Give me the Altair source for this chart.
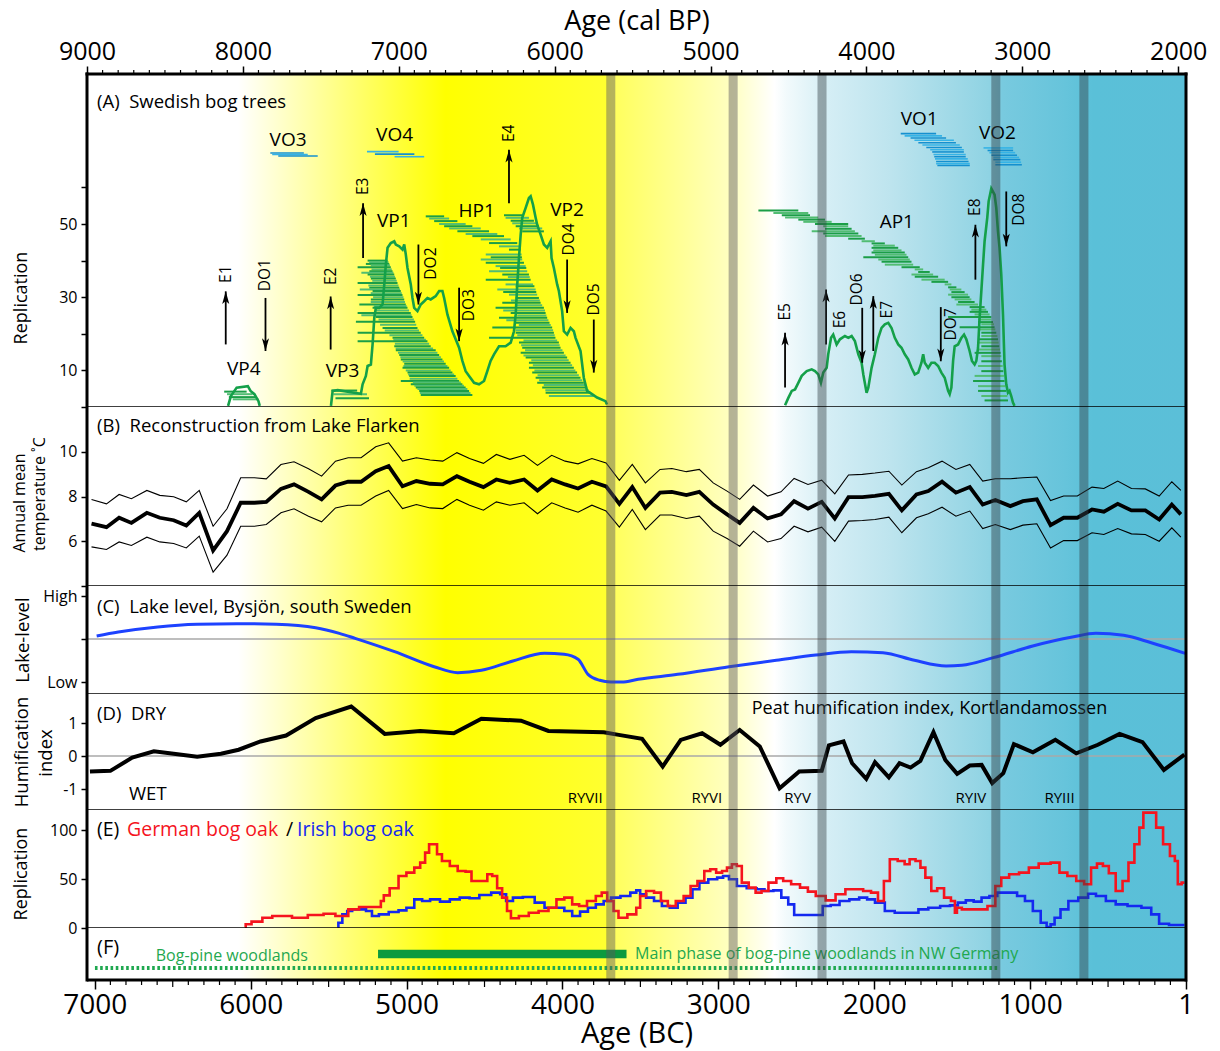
import altair as alt
import pandas as pd

FONT = "Open Sans"
W = 1099
HA, HB, HC, HD, HE, HF = 333, 179, 108, 116, 118, 52
X_LEFT, X_RIGHT = 7050, 0          # years BC at the left / right frame

# ---------------- axis tick labels ----------------
TOP_TICKS_CALBP = [9000, 8000, 7000, 6000, 5000, 4000, 3000, 2000]
BOTTOM_TICKS_BC = [7000, 6000, 5000, 4000, 3000, 2000, 1000, 1]

# ---------------- background & event bands ----------------
BG_YEAR = [7050, 6080, 4750, 3720, 3690, 2900, 2640, 2566, 2300, 1893, 1265, 1176, 773, 594, 0]
BG_COLOR = ["#ffffff", "#ffffff", "#ffff00", "#ffff30", "#ffff5a", "#ffffc4", "#ffffff", "#f2fafc",
            "#d5eef5", "#bde4ee", "#8fd3e3", "#78cadf", "#66c4db", "#5ac0d8", "#5bbfd8"]
BAND_START = [3719, 2934, 2364, 1249, 684]
BAND_END = [3661, 2876, 2306, 1191, 626]
BAND_COLOR = ["#5a565d", "#5a565d", "#3c484c", "#324146", "#324349"]

# ---------------- (A) Swedish bog trees ----------------
VP4_YEAR = [6145, 6127, 6090, 6018, 6001, 5976, 5950, 5942]
VP4_VAL = [0.3, 3.0, 5.3, 5.7, 4.4, 3.5, 1.6, 0.3]
MAIN_YEAR = [5485, 5478, 5474, 5442, 5367, 5293, 5282, 5261, 5250, 5229,
             5218, 5207, 5197, 5175, 5154, 5143, 5133, 5122, 5101, 5079,
             5069, 5047, 5026, 5015, 5005, 4994, 4973, 4962, 4951, 4930,
             4909, 4887, 4866, 4845, 4813, 4791, 4770, 4759, 4738, 4706,
             4685, 4663, 4642, 4621, 4599, 4567, 4535, 4503, 4482, 4461,
             4439, 4407, 4365, 4332, 4311, 4300, 4290, 4279, 4268, 4258,
             4236, 4215, 4204, 4189, 4172, 4162, 4140, 4119, 4098, 4076,
             4070, 4055, 4034, 4023, 4002, 3991, 3970, 3948, 3927, 3916,
             3884, 3863, 3842, 3810, 3778, 3724, 3714]
MAIN_VAL = [0.3, 3.0, 4.4, 4.6, 4.1, 3.6, 6.2, 8.5, 11.2, 11.6,
            17.1, 24.4, 27.1, 27.1, 28.0, 33.5, 38.9, 43.5, 44.8, 45.3,
            44.4, 43.9, 43.0, 44.4, 41.7, 38.0, 33.5, 29.8, 27.1, 26.2,
            28.0, 28.9, 29.8, 29.4, 30.3, 31.7, 31.7, 29.8, 25.3, 20.7,
            18.5, 16.2, 12.6, 9.8, 8.5, 6.6, 6.2, 7.1, 9.8, 12.6,
            14.4, 16.6, 16.6, 17.6, 20.7, 25.3, 33.5, 40.7, 47.1, 51.7,
            54.4, 57.1, 57.6, 55.3, 51.7, 49.8, 47.1, 44.4, 43.5, 45.3,
            40.7, 38.0, 33.5, 31.7, 26.2, 20.7, 19.8, 21.6, 20.7, 18.9,
            15.3, 8.0, 4.4, 3.5, 2.6, 1.6, 0.7]
AP1_YEAR = [2572, 2551, 2529, 2508, 2487, 2465, 2433, 2401, 2380, 2359,
            2342, 2327, 2305, 2295, 2277, 2263, 2241, 2220, 2188, 2166,
            2145, 2124, 2102, 2081, 2070, 2049, 2038, 2017, 1996, 1974,
            1953, 1932, 1910, 1889, 1868, 1846, 1825, 1804, 1782, 1761,
            1740, 1718, 1697, 1686, 1676, 1654, 1633, 1612, 1590, 1569,
            1548, 1526, 1516, 1505, 1494, 1484, 1462, 1441, 1424, 1409,
            1388, 1373, 1356, 1345, 1334, 1324, 1313, 1302, 1292, 1275,
            1266, 1249, 1228, 1217, 1206, 1196, 1185, 1174, 1164, 1153,
            1142, 1132, 1121, 1110, 1100]
AP1_VAL = [0.5, 2.5, 4.4, 4.8, 6.6, 8.5, 9.8, 10.3, 9.8, 8.9,
           6.6, 9.4, 10.7, 14.4, 18.9, 19.8, 17.1, 18.5, 19.4, 18.9,
           19.4, 18.0, 14.4, 12.1, 8.9, 3.9, 5.3, 10.7, 14.4, 18.9,
           21.6, 22.6, 23.0, 21.6, 18.9, 17.1, 16.2, 14.4, 13.0, 10.7,
           8.9, 9.4, 12.1, 14.4, 12.1, 10.7, 12.1, 12.1, 11.2, 9.4,
           8.0, 4.4, 3.5, 5.3, 12.6, 16.6, 17.1, 18.9, 19.8, 18.5,
           15.3, 12.6, 11.6, 12.6, 16.2, 24.4, 31.6, 38.9, 45.3, 51.7,
           56.2, 59.7, 58.0, 54.4, 48.0, 43.5, 36.2, 25.3, 11.6, 6.2,
           3.9, 4.4, 3.0, 1.2, 0.3]

# tree series bars: (replication level, start BC, end BC)
VP4_BARS = [(4.2, 6170, 6026), (3.5, 6152, 5988), (2.7, 6140, 5963), (2.1, 6115, 5950)]
VP3_BARS = [(4.5, 5482, 5317), (3.5, 5469, 5254), (2.4, 5456, 5241)]
VP1_BARS = [(40.0, 5250, 5122), (39.6, 5240, 5116), (39.1, 5261, 5111), (38.7, 5230, 5106), (38.2, 5314, 5101),
            (37.6, 5225, 5095), (37.1, 5239, 5090), (36.7, 5290, 5084), (36.2, 5250, 5079), (35.6, 5235, 5074),
            (35.1, 5229, 5069), (34.5, 5220, 5063), (33.9, 5314, 5058), (33.2, 5245, 5052), (32.6, 5239, 5047),
            (32.1, 5300, 5042), (31.7, 5218, 5037), (31.1, 5230, 5031), (30.6, 5314, 5026), (30.0, 5215, 5020),
            (29.4, 5229, 5015), (28.7, 5230, 5010), (28.0, 5303, 5005), (27.6, 5210, 5000), (27.1, 5218, 4994),
            (26.4, 5200, 4984), (25.7, 5314, 4973), (25.1, 5290, 4968), (24.6, 5197, 4962), (23.9, 5180, 4953),
            (23.3, 5325, 4945), (22.5, 5170, 4938), (21.6, 5154, 4930), (20.9, 5140, 4920), (20.3, 5314, 4909),
            (19.6, 5110, 4898), (18.9, 5090, 4887), (18.4, 5085, 4876), (18.0, 5314, 4866), (17.3, 5075, 4855),
            (16.6, 5079, 4845), (16.0, 5070, 4830), (15.5, 5069, 4813), (14.8, 5055, 4802), (14.2, 5047, 4791),
            (13.6, 5040, 4780), (13.0, 5037, 4770), (12.4, 5025, 4760), (11.8, 5015, 4749), (11.2, 5020, 4738),
            (10.7, 5026, 4727), (10.0, 5005, 4717), (9.4, 4994, 4706), (8.9, 4990, 4695), (8.5, 4983, 4685),
            (7.7, 4980, 4674), (7.1, 5037, 4663), (6.7, 4960, 4652), (6.2, 4973, 4642), (5.8, 4950, 4632),
            (5.3, 4941, 4621), (4.9, 4930, 4610), (4.4, 4919, 4599), (3.8, 4915, 4590), (3.3, 4909, 4578)]
HP1_BARS = [(52.1, 4877, 4759), (51.5, 4855, 4727), (50.8, 4823, 4674), (50.0, 4791, 4621), (49.4, 4759, 4578),
            (48.8, 4727, 4524), (48.0, 4674, 4471), (47.3, 4621, 4418), (46.7, 4578, 4375), (45.8, 4524, 4332),
            (44.8, 4471, 4290), (43.9, 4407, 4279), (43.0, 4343, 4268), (41.7, 4492, 4262), (40.9, 4460, 4260),
            (40.3, 4524, 4258), (39.4, 4492, 4247), (38.5, 4429, 4236), (38.0, 4400, 4232), (37.1, 4471, 4226),
            (36.2, 4386, 4215), (35.5, 4350, 4210), (34.8, 4492, 4204), (33.5, 4365, 4189), (33.0, 4300, 4180),
            (32.1, 4418, 4172), (31.4, 4380, 4168), (30.7, 4343, 4162), (29.8, 4300, 4151), (29.1, 4330, 4145),
            (28.5, 4386, 4140), (27.8, 4300, 4130), (27.1, 4429, 4119), (26.4, 4380, 4112), (25.7, 4332, 4108),
            (25.0, 4290, 4103), (24.4, 4407, 4098), (23.7, 4360, 4090), (23.0, 4311, 4083), (22.4, 4280, 4075),
            (21.7, 4450, 4066), (21.0, 4300, 4060), (20.3, 4300, 4055), (19.6, 4290, 4050), (18.9, 4471, 4045),
            (18.2, 4250, 4034), (17.6, 4279, 4023), (16.9, 4265, 4018), (16.2, 4258, 4012), (15.5, 4240, 4000),
            (14.8, 4268, 3991), (14.1, 4250, 3980), (13.5, 4236, 3970), (12.8, 4200, 3960), (12.1, 4215, 3948),
            (11.4, 4190, 3938), (10.7, 4215, 3927), (10.0, 4180, 3917), (9.4, 4194, 3906), (8.7, 4160, 3895),
            (8.0, 4172, 3884), (7.3, 4150, 3873), (6.6, 4162, 3863), (6.0, 4120, 3852), (5.3, 4130, 3842),
            (4.6, 4110, 3831), (3.9, 4108, 3820), (3.0, 4087, 3799)]
VP2_BARS = [(52.4, 4375, 4258), (51.7, 4365, 4215), (50.9, 4332, 4183), (50.2, 4322, 4162),
            (49.4, 4300, 4151), (48.8, 4279, 4130), (48.0, 4258, 4119)]
AP1_BARS = [(53.7, 2743, 2487), (53.0, 2647, 2423), (52.4, 2593, 2412), (51.8, 2572, 2359), (51.2, 2487, 2316),
            (50.6, 2455, 2273), (50.0, 2380, 2167), (49.4, 2327, 2167), (48.7, 2316, 2145), (48.0, 2401, 2124),
            (47.4, 2327, 2102), (46.7, 2316, 2081), (46.0, 2167, 2060), (45.3, 2081, 1996), (44.7, 2017, 1932),
            (44.1, 2006, 1868), (43.5, 2017, 1846), (42.8, 2006, 1825), (42.2, 2017, 1804), (41.6, 1996, 1793),
            (40.9, 2070, 1782), (40.3, 1974, 1772), (39.7, 1953, 1761), (38.9, 1932, 1750), (38.2, 1825, 1708),
            (37.6, 1740, 1686), (36.9, 1718, 1644), (36.2, 1761, 1622), (35.6, 1740, 1590), (34.8, 1697, 1548),
            (34.2, 1633, 1526), (33.5, 1548, 1505), (32.7, 1526, 1473), (32.1, 1516, 1441), (31.4, 1505, 1420),
            (30.7, 1526, 1398), (30.0, 1505, 1388), (29.4, 1484, 1377), (28.7, 1462, 1356), (28.0, 1473, 1334),
            (27.3, 1388, 1292), (26.6, 1377, 1281), (26.0, 1388, 1270), (25.3, 1356, 1260), (24.6, 1526, 1249),
            (23.9, 1334, 1249), (23.2, 1334, 1238), (22.6, 1313, 1232), (21.8, 1452, 1228), (21.2, 1334, 1223),
            (20.3, 1313, 1217), (19.4, 1313, 1210), (18.5, 1334, 1206), (17.6, 1334, 1202), (16.6, 1313, 1198),
            (15.7, 1334, 1193), (14.8, 1356, 1189), (13.9, 1313, 1185), (12.5, 1313, 1181), (11.2, 1334, 1176),
            (9.8, 1313, 1172), (8.5, 1356, 1168), (7.1, 1366, 1164), (5.7, 1334, 1159), (4.4, 1334, 1153),
            (3.0, 1313, 1146), (1.8, 1292, 1142)]
VO_BARS = [(69.4, 5874, 5659), (69.0, 5862, 5634), (68.6, 5823, 5570),
           (69.8, 5254, 5051), (69.1, 5203, 4950), (68.4, 5077, 4887),
           (74.7, 1830, 1603), (74.1, 1805, 1565), (73.5, 1767, 1539), (72.9, 1742, 1489), (72.2, 1717, 1476),
           (71.6, 1691, 1451), (70.9, 1666, 1438), (70.3, 1641, 1425), (69.7, 1628, 1425), (69.0, 1620, 1413),
           (68.4, 1615, 1413), (67.8, 1610, 1400), (67.1, 1603, 1395), (66.5, 1603, 1387), (66.0, 1595, 1387),
           (70.8, 1299, 1109), (70.1, 1273, 1109), (69.5, 1261, 1096), (68.8, 1248, 1084), (68.2, 1236, 1071),
           (67.6, 1236, 1063), (66.9, 1223, 1058), (66.2, 1223, 1053)]

GROUP_NAME = ["VP4", "VP3", "VP1", "VO3", "VO4", "HP1", "VP2", "AP1", "VO1", "VO2"]
GROUP_YEAR = [6044, 5411, 5082, 5760, 5077, 4550, 3971, 1855, 1711, 1210]
GROUP_VAL = [10.3, 9.8, 50.7, 73.0, 74.4, 53.5, 53.9, 50.5, 78.8, 75.0]

ARROW_NAME = ["E1", "DO1", "E2", "E3", "E4", "DO2", "DO3", "DO4", "DO5", "E5", "E6", "DO6", "E7", "DO7", "E8", "DO8"]
ARROW_YEAR = [6160, 5905, 5487, 5279, 4343, 4924, 4663, 3970, 3799, 2572, 2309, 2077, 2006, 1573, 1351, 1153]
ARROW_FROM = [17.1, 29.8, 15.7, 40.7, 55.7, 44.4, 32.6, 40.3, 23.9, 5.3, 17.1, 27.1, 15.3, 27.3, 34.8, 58.9]
ARROW_TO = [31.6, 15.3, 30.2, 55.7, 70.3, 28.0, 18.0, 25.7, 9.4, 20.3, 32.1, 12.1, 30.3, 12.5, 49.8, 43.9]
ARROW_LABEL_YEAR = [6160, 5905, 5487, 5279, 4343, 4844, 4599, 3959, 3799, 2572, 2220, 2113, 1915, 1509, 1351, 1074]
ARROW_LABEL_VAL = [36.3, 36.0, 35.7, 60.3, 74.8, 39.2, 27.8, 45.8, 29.4, 26.0, 23.9, 32.1, 26.6, 22.6, 54.6, 53.9]

# ---------------- (B) Lake Flarken temperature ----------------
B_YEAR = [7021, 6925, 6844, 6765, 6666, 6583, 6494, 6413, 6330, 6241,
          6152, 6064, 5976, 5900, 5806, 5722, 5629, 5545, 5456, 5375,
          5292, 5198, 5115, 5026, 4937, 4849, 4768, 4677, 4596, 4507,
          4424, 4337, 4246, 4160, 4069, 3983, 3900, 3811, 3720,
          3635, 3552, 3468, 3374, 3298, 3205, 3122, 3033, 2944, 2863,
          2775, 2684, 2598, 2514, 2425, 2337, 2253, 2165, 2076, 1995,
          1906, 1823, 1729, 1653, 1565, 1476, 1387, 1304, 1223, 1127,
          1046, 957, 869, 785, 697, 603, 527, 438, 350, 261, 172, 91, 33]
B_MID = [6.79, 6.63, 7.05, 6.82, 7.27, 7.05, 6.94, 6.70, 7.27, 5.59,
         6.45, 7.72, 7.72, 7.76, 8.34, 8.54, 8.21, 7.87, 8.49, 8.66,
         8.66, 9.13, 9.36, 8.46, 8.69, 8.57, 8.54, 8.91, 8.66, 8.42,
         8.76, 8.61, 8.76, 8.27, 8.76, 8.54, 8.36, 8.66, 8.45,
         7.67, 8.42, 7.49, 8.17, 8.21, 8.06, 8.21, 7.64, 7.20, 6.82,
         7.49, 7.02, 7.20, 7.79, 7.46, 7.76, 7.02, 7.97, 7.97, 8.03,
         8.12, 7.38, 8.09, 8.24, 8.66, 8.17, 8.42, 7.64, 7.84, 7.57,
         7.79, 7.87, 6.72, 7.05, 7.05, 7.42, 7.32, 7.67, 7.38, 7.38, 6.97, 7.64, 7.20]
B_UP = [7.87, 7.67, 8.09, 7.90, 8.27, 8.05, 7.99, 7.76, 8.27, 6.67,
        7.45, 8.84, 8.84, 8.79, 9.43, 9.55, 9.24, 8.91, 9.58, 9.73,
        9.73, 10.22, 10.40, 9.58, 9.73, 9.63, 9.58, 9.96, 9.70, 9.48,
        9.88, 9.66, 9.84, 9.39, 9.84, 9.58, 9.46, 9.70, 9.50,
        8.72, 9.43, 8.61, 9.21, 9.25, 9.11, 9.21, 8.61, 8.24, 7.87,
        8.51, 8.02, 8.21, 8.81, 8.54, 8.73, 8.12, 8.96, 8.99, 9.05,
        9.13, 8.51, 9.11, 9.28, 9.58, 9.21, 9.43, 8.69, 8.79, 8.79,
        8.84, 8.87, 7.82, 8.02, 8.02, 8.42, 8.36, 8.69, 8.36, 8.34, 8.02, 8.66, 8.27]
B_LOW = [5.75, 5.63, 5.97, 5.81, 6.18, 5.97, 5.90, 5.70, 6.23, 4.62,
         5.38, 6.67, 6.67, 6.75, 7.27, 7.45, 7.12, 6.87, 7.49, 7.61,
         7.61, 8.02, 8.27, 7.46, 7.64, 7.49, 7.46, 7.87, 7.61, 7.39,
         7.76, 7.61, 7.72, 7.23, 7.72, 7.49, 7.30, 7.61, 7.35,
         6.63, 7.42, 6.52, 7.17, 7.17, 7.02, 7.12, 6.45, 6.12, 5.78,
         6.45, 5.97, 6.12, 6.67, 6.42, 6.63, 6.00, 6.90, 6.93, 6.97,
         7.08, 6.38, 7.05, 7.23, 7.52, 7.12, 7.35, 6.57, 6.75, 6.52,
         6.72, 6.78, 5.70, 6.03, 6.03, 6.38, 6.30, 6.57, 6.33, 6.30, 6.00, 6.60, 6.18]

# ---------------- (C) Lake level Bysjon (0 = Low, 1 = High) ----------------
C_YEAR = [6988, 6849, 6596, 6343, 6090, 5836, 5583, 5431, 5330, 5077,
          4823, 4672, 4520, 4318, 4115, 3989, 3900, 3836, 3761, 3690,
          3620, 3514, 3261, 2931, 2628, 2375, 2147, 1944, 1742, 1539,
          1438, 1236, 983, 729, 578, 400, 223, 5]
C_VAL = [0.535, 0.581, 0.640, 0.671, 0.678, 0.671, 0.632, 0.566, 0.508, 0.353,
         0.178, 0.109, 0.136, 0.244, 0.333, 0.322, 0.264, 0.089, 0.02, 0.0,
         0.0, 0.031, 0.089, 0.178, 0.252, 0.314, 0.353, 0.341, 0.252, 0.186,
         0.194, 0.283, 0.419, 0.523, 0.566, 0.543, 0.457, 0.333]

# ---------------- (D) Peat humification ----------------
D_YEAR = [7031, 6900, 6760, 6621, 6494, 6343, 6191, 6077, 5937, 5773,
          5583, 5355, 5140, 4912, 4697, 4520, 4266, 4090, 3735, 3639,
          3489, 3357, 3241, 3104, 2987, 2863, 2734, 2607, 2481, 2337,
          2291, 2197, 2142, 2051, 1995, 1906, 1838, 1767, 1704, 1620,
          1544, 1468, 1387, 1311, 1243, 1172, 1104, 982, 838, 704,
          565, 426, 279, 142, 10]
D_VAL = [-0.47, -0.45, -0.05, 0.14, 0.07, -0.02, 0.07, 0.19, 0.44, 0.62,
         1.15, 1.50, 0.67, 0.76, 0.69, 1.13, 1.07, 0.76, 0.72, 0.64,
         0.52, -0.32, 0.49, 0.69, 0.34, 0.79, 0.29, -0.98, -0.47, -0.45,
         0.32, 0.44, -0.22, -0.69, -0.19, -0.65, -0.22, -0.35, -0.15, 0.72,
         -0.12, -0.54, -0.29, -0.27, -0.82, -0.52, 0.36, 0.11, 0.49, 0.08,
         0.34, 0.67, 0.42, -0.42, 0.04]
RY_NAME = ["RYVII", "RYVI", "RYV", "RYIV", "RYIII"]
RY_YEAR = [3854, 3074, 2492, 1380, 811]

# ---------------- (E) bog oak replication ----------------
RED_YEAR = [6038, 6026, 5963, 5887, 5836, 5786, 5684, 5583, 5482, 5431,
            5393, 5355, 5254, 5178, 5152, 5140, 5077, 5026, 4976, 4925,
            4900, 4862, 4849, 4811, 4798, 4748, 4697, 4647, 4596, 4571,
            4495, 4469, 4432, 4406, 4368, 4343, 4318, 4241, 4191, 4115,
            4064, 4013, 3963, 3912, 3874, 3811, 3761, 3735, 3691, 3653,
            3628, 3539, 3514, 3489, 3438, 3387, 3350, 3298, 3248, 3197,
            3159, 3109, 3071, 3033, 2995, 2957, 2932, 2894, 2869, 2830,
            2780, 2742, 2704, 2653, 2603, 2565, 2501, 2451, 2400, 2350,
            2273, 2223, 2147, 2096, 2046, 1995, 1957, 1919, 1881, 1818,
            1792, 1754, 1716, 1691, 1653, 1615, 1577, 1527, 1489, 1476,
            1463, 1413, 1311, 1236, 1210, 1160, 1109, 1033, 983, 907,
            830, 793, 729, 679, 628, 590, 552, 514, 476, 426,
            388, 350, 312, 286, 261, 211, 172, 122, 84, 59, 46, 10]
RED_VAL = [1.0, 3.8, 6.5, 10.5, 12.2, 12.2, 10.5, 13.3, 14.6, 12.2,
           12.2, 19.0, 21.4, 21.4, 27.6, 33.3, 40.5, 53.1, 56.5, 61.6,
           66.7, 76.9, 85.4, 85.4, 75.2, 68.4, 63.3, 58.2, 57.5, 48.0,
           48.0, 54.8, 53.1, 40.5, 31.0, 17.3, 9.9, 12.2, 15.6, 17.3,
           20.7, 29.2, 31.0, 24.1, 22.5, 27.6, 32.7, 36.1, 27.6, 17.3,
           10.5, 13.9, 20.7, 32.7, 37.8, 36.1, 27.6, 22.5, 27.6, 32.7,
           42.9, 48.0, 58.2, 59.9, 56.5, 58.2, 61.6, 65.0, 63.3, 46.3,
           41.2, 36.1, 37.8, 46.3, 50.7, 48.0, 44.6, 41.2, 37.1, 32.7,
           28.2, 34.4, 39.5, 39.5, 37.8, 36.1, 27.6, 48.0, 70.1, 68.4,
           65.0, 70.1, 68.4, 61.6, 51.4, 37.8, 40.5, 31.0, 27.6, 15.6,
           20.7, 19.0, 19.0, 22.5, 42.9, 51.4, 54.8, 56.5, 61.6, 65.7,
           66.7, 56.5, 53.1, 48.0, 44.6, 61.6, 65.7, 63.3, 55.8, 37.8,
           48.0, 66.7, 85.4, 102.4, 117.7, 117.7, 102.4, 85.4, 73.5, 68.4, 44.6, 46.3]
BLUE_YEAR = [5444, 5431, 5393, 5368, 5330, 5279, 5241, 5203, 5152, 5077,
             5026, 4976, 4925, 4875, 4823, 4748, 4697, 4621, 4571, 4495,
             4419, 4380, 4343, 4292, 4216, 4140, 4090, 4013, 3963, 3912,
             3862, 3811, 3761, 3710, 3666, 3590, 3539, 3514, 3489, 3438,
             3387, 3337, 3286, 3236, 3185, 3147, 3096, 3033, 2982, 2957,
             2906, 2856, 2780, 2729, 2679, 2615, 2577, 2526, 2501, 2350,
             2311, 2248, 2197, 2122, 2071, 2020, 1970, 1894, 1843, 1742,
             1691, 1615, 1539, 1489, 1438, 1387, 1337, 1286, 1236, 1185,
             1109, 1058, 1008, 957, 907, 881, 856, 830, 780, 729,
             653, 603, 552, 476, 426, 324, 248, 198, 147, 71, 10]
BLUE_VAL = [0.9, 5.4, 13.9, 17.3, 19.0, 19.0, 17.3, 12.2, 13.9, 16.3,
            18.0, 20.7, 29.2, 27.6, 29.2, 26.9, 29.2, 31.0, 30.3, 33.7,
            36.1, 34.4, 27.6, 31.0, 31.6, 25.9, 20.7, 20.7, 17.3, 12.2,
            16.7, 20.7, 24.1, 27.6, 31.0, 32.7, 36.1, 38.4, 34.4, 31.0,
            27.6, 22.5, 20.7, 25.9, 31.0, 39.5, 46.3, 49.7, 51.4, 53.1,
            49.7, 42.9, 40.5, 39.5, 37.8, 38.4, 31.0, 24.1, 13.3, 13.3,
            22.5, 23.5, 27.6, 29.2, 31.0, 29.2, 25.9, 17.3, 15.6, 15.6,
            19.0, 20.7, 22.5, 23.1, 25.9, 28.2, 26.9, 31.0, 32.7, 36.1,
            36.1, 32.7, 27.6, 17.3, 5.4, 1.0, 3.7, 10.5, 19.0, 27.6,
            31.0, 35.0, 32.7, 27.6, 24.1, 22.5, 20.7, 13.9, 4.4, 3.1, 3.1]

# ---------------- (F) bog-pine woodlands ----------------
F_MAIN_START, F_MAIN_END, F_MAIN_LEVEL = 5183, 3589, 26
F_ALL_START, F_ALL_END, F_ALL_LEVEL = 6999, 1207, 12
F_TEXT = ["Bog-pine woodlands", "Main phase of bog-pine woodlands in NW Germany"]
F_TEXT_YEAR = [6609, 3534]
F_TEXT_LEVEL = [24, 26]

# ======================= helpers =======================
XS = alt.Scale(domain=[X_RIGHT, X_LEFT], reverse=True, nice=False, zero=False)
GREEN = "#14a049"
GREEN_TXT = "#1fa84f"
RED = "#f5141e"
BLUE = "#1428f0"
LAKE = "#1d42ff"
BAR_TONES = ["#1b9e47", "#52bd73"]
VO_TONES = ["#1590cf", "#35b3e6"]
ONE = pd.DataFrame({"a": [0]})


def xe(field, ax):
    return alt.X(field, type="quantitative", scale=XS, axis=ax)


def ye(field, dom, ax):
    return alt.Y(field, type="quantitative", scale=alt.Scale(domain=dom, nice=False, zero=False), axis=ax)


def yaxis(values, expr):
    return alt.Axis(values=values, labelExpr=expr, title=None, domain=False, grid=False,
                    tickSize=6, tickWidth=1.5, tickColor="black", labelColor="black",
                    labelFont=FONT, labelFontSize=16, labelPadding=4)


GRAD = alt.LinearGradient(
    gradient="linear", x1=0, x2=1, y1=0, y2=0,
    stops=[alt.GradientStop(offset=(X_LEFT - y) / (X_LEFT - X_RIGHT), color=c) for y, c in zip(BG_YEAR, BG_COLOR)])


def background(h, ax):
    d = pd.DataFrame({"x": [X_LEFT], "x2": [X_RIGHT]})
    return alt.Chart(d).mark_rect(fill=GRAD).encode(x=xe("x", ax), x2="x2", y=alt.value(0), y2=alt.value(h))


def bands(h, ax):
    d = pd.DataFrame({"x": BAND_START, "x2": BAND_END, "c": BAND_COLOR})
    return alt.Chart(d).mark_rect(opacity=0.45).encode(
        x=xe("x", ax), x2="x2", y=alt.value(0), y2=alt.value(h), color=alt.Color("c:N", scale=None))


def frame(h, top=False, bottom_w=1.5):
    y0 = -1.5 if top else 0
    y1 = h + (1.5 if bottom_w > 2 else 0)
    ls = [
        alt.Chart(ONE).mark_rule(color="black", strokeWidth=3).encode(x=alt.value(0), y=alt.value(y0), y2=alt.value(y1)),
        alt.Chart(ONE).mark_rule(color="black", strokeWidth=3).encode(x=alt.value(W), y=alt.value(y0), y2=alt.value(y1)),
        alt.Chart(ONE).mark_rule(color="black", strokeWidth=bottom_w).encode(x=alt.value(0), x2=alt.value(W), y=alt.value(h)),
    ]
    if top:
        ls.append(alt.Chart(ONE).mark_rule(color="black", strokeWidth=3).encode(
            x=alt.value(-1.5), x2=alt.value(W + 1.5), y=alt.value(0)))
    return ls


def ptext(text, x, y, size, color="black", angle=0, align="left"):
    d = pd.DataFrame({"t": [text]})
    return alt.Chart(d).mark_text(font=FONT, fontSize=size, color=color, angle=angle, align=align,
                                  baseline="middle").encode(x=alt.value(x), y=alt.value(y), text="t:N")


def minor_ticks(vals, ax, y0, y1):
    d = pd.DataFrame({"x": vals})
    return alt.Chart(d).mark_rule(color="black", strokeWidth=1.2).encode(x=xe("x", ax), y=alt.value(y0), y2=alt.value(y1))


# ======================= (A) =======================
TOP_AX = alt.Axis(orient="top", values=[c - 1950 for c in TOP_TICKS_CALBP],
                  labelExpr="format(datum.value + 1950, 'd')", title="Age (cal BP)",
                  titleFont=FONT, titleFontSize=27, titleFontWeight="normal", titleColor="black", titlePadding=4,
                  labelFont=FONT, labelFontSize=25, labelColor="black", labelPadding=2,
                  tickSize=8, tickWidth=1.5, tickColor="black", domain=False, grid=False,
                  labelFlush=False, labelOverlap=False)
A_DOM = [0, 91]
A_YAX = yaxis([0, 10, 20, 30, 40, 50, 60], "(datum.value==10||datum.value==30||datum.value==50)?datum.label:''")

curve_rows = []
for seg, (ys, vs) in enumerate([(VP4_YEAR, VP4_VAL), (MAIN_YEAR, MAIN_VAL), (AP1_YEAR, AP1_VAL)]):
    for yv, v in zip(ys, vs):
        curve_rows.append({"x": yv, "y": v, "seg": seg})
curve_df = pd.DataFrame(curve_rows)

bar_rows = []
for grp in (VP4_BARS, VP3_BARS, VP1_BARS, HP1_BARS, VP2_BARS, AP1_BARS):
    for i, (v, s, e) in enumerate(grp):
        bar_rows.append({"y": v, "x": s, "x2": e, "c": BAR_TONES[i % 2]})
bar_df = pd.DataFrame(bar_rows)
vo_df = pd.DataFrame([{"y": v, "x": s, "x2": e, "c": VO_TONES[i % 2]} for i, (v, s, e) in enumerate(VO_BARS)])

arrow_df = pd.DataFrame({"x": ARROW_YEAR, "y0": ARROW_FROM, "y1": ARROW_TO})
up_df = arrow_df[arrow_df.y1 > arrow_df.y0]
down_df = arrow_df[arrow_df.y1 < arrow_df.y0]
arrow_lab_df = pd.DataFrame({"x": ARROW_LABEL_YEAR, "y": ARROW_LABEL_VAL, "t": ARROW_NAME})
group_df = pd.DataFrame({"x": GROUP_YEAR, "y": GROUP_VAL, "t": GROUP_NAME})

UP_SHAPE = "M0,0L-0.5,1.8L0,1.35L0.5,1.8Z"
DOWN_SHAPE = "M0,0L-0.5,-1.8L0,-1.35L0.5,-1.8Z"

top_minor = [c - 1950 for c in range(8900, 2000, -100) if c % 1000 != 0]

panelA = alt.layer(
    background(HA, TOP_AX),
    alt.Chart(bar_df).mark_rule(strokeWidth=2.0).encode(
        x=xe("x", TOP_AX), x2="x2", y=ye("y", A_DOM, A_YAX), color=alt.Color("c:N", scale=None)),
    alt.Chart(vo_df).mark_rule(strokeWidth=1.6).encode(
        x=xe("x", TOP_AX), x2="x2", y=ye("y", A_DOM, A_YAX), color=alt.Color("c:N", scale=None)),
    alt.Chart(curve_df).mark_line(color=GREEN, strokeWidth=2.6).encode(
        x=xe("x", TOP_AX), y=ye("y", A_DOM, A_YAX), detail="seg:N", order="x:Q"),
    alt.Chart(arrow_df).mark_rule(color="black", strokeWidth=1.8).encode(
        x=xe("x", TOP_AX), y=ye("y0", A_DOM, A_YAX), y2="y1"),
    alt.Chart(up_df).mark_point(shape=UP_SHAPE, filled=True, size=200, color="black", opacity=1).encode(
        x=xe("x", TOP_AX), y=ye("y1", A_DOM, A_YAX)),
    alt.Chart(down_df).mark_point(shape=DOWN_SHAPE, filled=True, size=200, color="black", opacity=1).encode(
        x=xe("x", TOP_AX), y=ye("y1", A_DOM, A_YAX)),
    alt.Chart(arrow_lab_df).mark_text(font=FONT, fontSize=15.5, angle=270, align="center", baseline="middle", color="black").encode(
        x=xe("x", TOP_AX), y=ye("y", A_DOM, A_YAX), text="t:N"),
    alt.Chart(group_df).mark_text(font=FONT, fontSize=19, align="center", baseline="middle", color="black").encode(
        x=xe("x", TOP_AX), y=ye("y", A_DOM, A_YAX), text="t:N"),
    ptext("(A)\u00a0 Swedish bog trees", 10, 28, 18.5),
    ptext("Replication", -65, 224, 18, angle=270, align="center"),
    bands(HA, TOP_AX),
    minor_ticks(top_minor, TOP_AX, -4, 0),
    *frame(HA, top=True),
).properties(width=W, height=HA)

# ======================= (B) =======================
B_DOM = [4, 12]
B_YAX = yaxis([4, 6, 8, 10], "datum.value==4?'':datum.label")
b_env = pd.DataFrame([{"x": x, "y": u, "s": "up"} for x, u in zip(B_YEAR, B_UP)] +
                     [{"x": x, "y": l, "s": "low"} for x, l in zip(B_YEAR, B_LOW)])
b_mid = pd.DataFrame({"x": B_YEAR, "y": B_MID})
panelB = alt.layer(
    background(HB, None),
    alt.Chart(b_env).mark_line(color="black", strokeWidth=1.1).encode(
        x=xe("x", None), y=ye("y", B_DOM, B_YAX), detail="s:N", order="x:Q"),
    alt.Chart(b_mid).mark_line(color="black", strokeWidth=3.8).encode(
        x=xe("x", None), y=ye("y", B_DOM, B_YAX), order="x:Q"),
    ptext("(B)\u00a0 Reconstruction from Lake Flarken", 10, 19, 18.5),
    ptext("Annual mean", -67, 96, 16, angle=270, align="center"),
    ptext("temperature \u02daC", -47, 87, 16, angle=270, align="center"),
    bands(HB, None),
    *frame(HB),
).properties(width=W, height=HB)

# ======================= (C) =======================
C_DOM = [-12 / 86, 1 + 10 / 86]
C_YAX = yaxis([0, 0.5, 1], "datum.value==1?'High':(datum.value==0?'Low':'')")
c_df = pd.DataFrame({"x": C_YEAR, "y": C_VAL})
panelC = alt.layer(
    background(HC, None),
    alt.Chart(pd.DataFrame({"y": [0.5]})).mark_rule(color="#a8a8a8", strokeWidth=1.5).encode(
        y=ye("y", C_DOM, C_YAX), x=alt.value(0), x2=alt.value(W)),
    alt.Chart(c_df).mark_line(color=LAKE, strokeWidth=3, interpolate="monotone").encode(
        x=xe("x", None), y=ye("y", C_DOM, C_YAX), order="x:Q"),
    ptext("(C)\u00a0 Lake level, Bysj\u00f6n, south Sweden", 10, 21, 18.5),
    ptext("Lake-level", -64, 54, 18.5, angle=270, align="center"),
    bands(HC, None),
    *frame(HC),
).properties(width=W, height=HC)

# ======================= (D) =======================
D_DOM = [-54 / 33, 62 / 33]
D_YAX = yaxis([-1, 0, 1], "datum.value==-1?'-1':(datum.value==0?'0':'1')")
d_df = pd.DataFrame({"x": D_YEAR, "y": D_VAL})
ry_df = pd.DataFrame({"x": RY_YEAR, "y": [-1.27] * len(RY_YEAR), "t": RY_NAME})
d_txt = pd.DataFrame({"x": [6660], "y": [-1.15], "t": ["WET"]})
d_txt2 = pd.DataFrame({"x": [2786], "y": [1.42], "t": ["Peat humification index, Kortlandamossen"]})
panelD = alt.layer(
    background(HD, None),
    alt.Chart(pd.DataFrame({"y": [0]})).mark_rule(color="#a8a8a8", strokeWidth=1.5).encode(
        y=ye("y", D_DOM, D_YAX), x=alt.value(0), x2=alt.value(W)),
    alt.Chart(d_df).mark_line(color="black", strokeWidth=4).encode(
        x=xe("x", None), y=ye("y", D_DOM, D_YAX), order="x:Q"),
    alt.Chart(ry_df).mark_text(font=FONT, fontSize=15, align="center", baseline="middle", color="black").encode(
        x=xe("x", None), y=ye("y", D_DOM, D_YAX), text="t:N"),
    alt.Chart(d_txt).mark_text(font=FONT, fontSize=18.5, align="center", baseline="middle", color="black").encode(
        x=xe("x", None), y=ye("y", D_DOM, D_YAX), text="t:N"),
    alt.Chart(d_txt2).mark_text(font=FONT, fontSize=18, align="left", baseline="middle", color="black").encode(
        x=xe("x", None), y=ye("y", D_DOM, D_YAX), text="t:N"),
    ptext("(D)\u00a0 DRY", 10, 20, 18.5),
    ptext("Humification", -65, 58, 18.5, angle=270, align="center"),
    ptext("index", -41, 59, 18.5, angle=270, align="center"),
    bands(HD, None),
    *frame(HD),
).properties(width=W, height=HD)

# ======================= (E) =======================
E_DOM = [0, 118 / 0.98]
E_YAX = yaxis([0, 50, 100], "datum.label")
e_df = pd.DataFrame([{"x": x, "y": v, "s": "G"} for x, v in zip(RED_YEAR, RED_VAL)])
e_df2 = pd.DataFrame([{"x": x, "y": v, "s": "I"} for x, v in zip(BLUE_YEAR, BLUE_VAL)])
panelE = alt.layer(
    background(HE, None),
    alt.Chart(e_df2).mark_line(color=BLUE, strokeWidth=2.6, interpolate="step").encode(
        x=xe("x", None), y=ye("y", E_DOM, E_YAX), order="x:Q"),
    alt.Chart(e_df).mark_line(color=RED, strokeWidth=2.6, interpolate="step").encode(
        x=xe("x", None), y=ye("y", E_DOM, E_YAX), order="x:Q"),
    ptext("(E)", 10, 20, 19.5),
    ptext("German bog oak", 40, 20, 19.5, color=RED),
    ptext("/", 199, 20, 19.5),
    ptext("Irish bog oak", 210, 20, 19.5, color=BLUE),
    ptext("Replication", -65, 64, 18, angle=270, align="center"),
    bands(HE, None),
    *frame(HE),
).properties(width=W, height=HE)

# ======================= (F) =======================
BOT_AX = alt.Axis(orient="bottom", values=BOTTOM_TICKS_BC, format="d", title="Age (BC)",
                  titleFont=FONT, titleFontSize=29, titleFontWeight="normal", titleColor="black", titlePadding=0,
                  labelFont=FONT, labelFontSize=28, labelColor="black", labelPadding=2,
                  tickSize=9, tickWidth=1.5, tickColor="black", domain=False, grid=False,
                  labelFlush=False, labelOverlap=False)
F_DOM = [0, HF]
f_main = pd.DataFrame({"x": [F_MAIN_START], "x2": [F_MAIN_END], "y": [F_MAIN_LEVEL]})
f_all = pd.DataFrame({"x": [F_ALL_START], "x2": [F_ALL_END], "y": [F_ALL_LEVEL]})
f_txt = pd.DataFrame({"x": F_TEXT_YEAR, "y": F_TEXT_LEVEL, "t": F_TEXT})
bot_minor = [v for v in range(6900, 0, -100) if v % 1000 != 0 and v % 500 != 0]
bot_half = [v for v in range(6500, 0, -1000)]
panelF = alt.layer(
    background(HF, BOT_AX),
    alt.Chart(f_all).mark_rule(color=GREEN_TXT, strokeWidth=4, strokeDash=[2.6, 2.6]).encode(
        x=xe("x", BOT_AX), x2="x2", y=ye("y", F_DOM, None)),
    alt.Chart(f_main).mark_rule(color="#0b9a3f", strokeWidth=8.5).encode(
        x=xe("x", BOT_AX), x2="x2", y=ye("y", F_DOM, None)),
    alt.Chart(f_txt).mark_text(font=FONT, fontSize=16, align="left", baseline="middle", color=GREEN_TXT).encode(
        x=xe("x", BOT_AX), y=ye("y", F_DOM, None), text="t:N"),
    ptext("(F)", 10, 20, 20),
    bands(HF, BOT_AX),
    minor_ticks(bot_minor, BOT_AX, HF, HF + 5),
    minor_ticks(bot_half, BOT_AX, HF, HF + 7),
    *frame(HF, bottom_w=3),
).properties(width=W, height=HF)

chart = alt.vconcat(panelA, panelB, panelC, panelD, panelE, panelF, spacing=0, bounds="flush").properties(
    padding={"left": 12, "top": 7, "right": 12, "bottom": 4}
).configure_view(stroke=None).configure_axis(grid=False)

chart.save("out.html", embed_options={"renderer": "svg", "actions": False})
